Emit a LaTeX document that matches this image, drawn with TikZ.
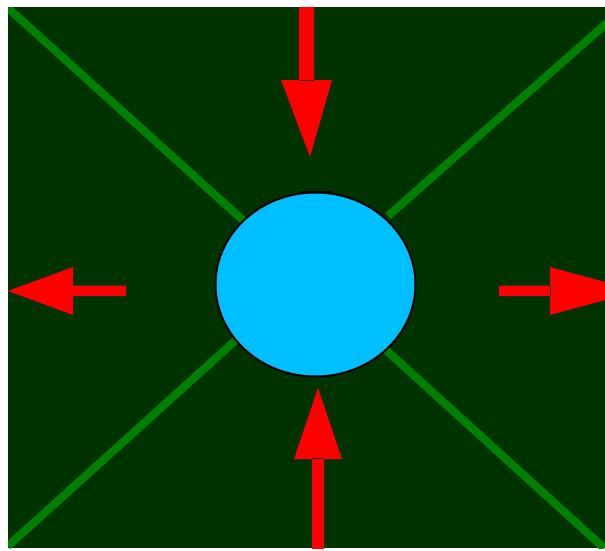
\documentclass[tikz,border=0pt]{standalone}
\begin{document}
\begin{tikzpicture}[x=1pt,y=-1pt]
\definecolor{bg}{HTML}{003300}
\definecolor{ray}{HTML}{008000}
\definecolor{ball}{HTML}{00BFFF}
\tikzset{rayline/.style={draw=ray,line width=8pt},
         arrowfill/.style={fill=red}}
\useasboundingbox (0,0) rectangle (605,550);
\fill[white] (0,0) rectangle (605,550);
\fill[bg] (8,7) rectangle (605,548);
\begin{scope}
\clip (8,7) rectangle (605,548);
% rays
\coordinate (tl) at (8,8);
\coordinate (tr) at (608,22);
\coordinate (bl) at (8,546);
\coordinate (br) at (604,548);
\coordinate (ctl) at (245,222);
\coordinate (ctr) at (388,216);
\coordinate (cbl) at (236,340);
\coordinate (cbr) at (386,350);
\draw[rayline] (tl) -- (ctl);
\draw[rayline] (tr) -- (ctr);
\draw[rayline] (bl) -- (cbl);
\draw[rayline] (br) -- (cbr);
% arrows
\fill[arrowfill] (73,285.5) rectangle (126,296) (8,291) -- (73,267) -- (73,315) -- cycle;
\fill[arrowfill] (499,285.5) rectangle (551,296) (550,267) -- (638,291) -- (550,315) -- cycle;
\fill[arrowfill] (299,0) rectangle (314,81) (281,80) -- (332,80) -- (310,157) -- cycle;
\fill[arrowfill] (312,458) rectangle (324,550) (294,459) -- (318,388) -- (342,459) -- cycle;
\end{scope}
% ball
\fill[black] (300,191) rectangle (331,197);
\draw[black,line width=2pt,fill=ball] (315.5,284.5) ellipse [x radius=100,y radius=92];
\end{tikzpicture}
\end{document}
